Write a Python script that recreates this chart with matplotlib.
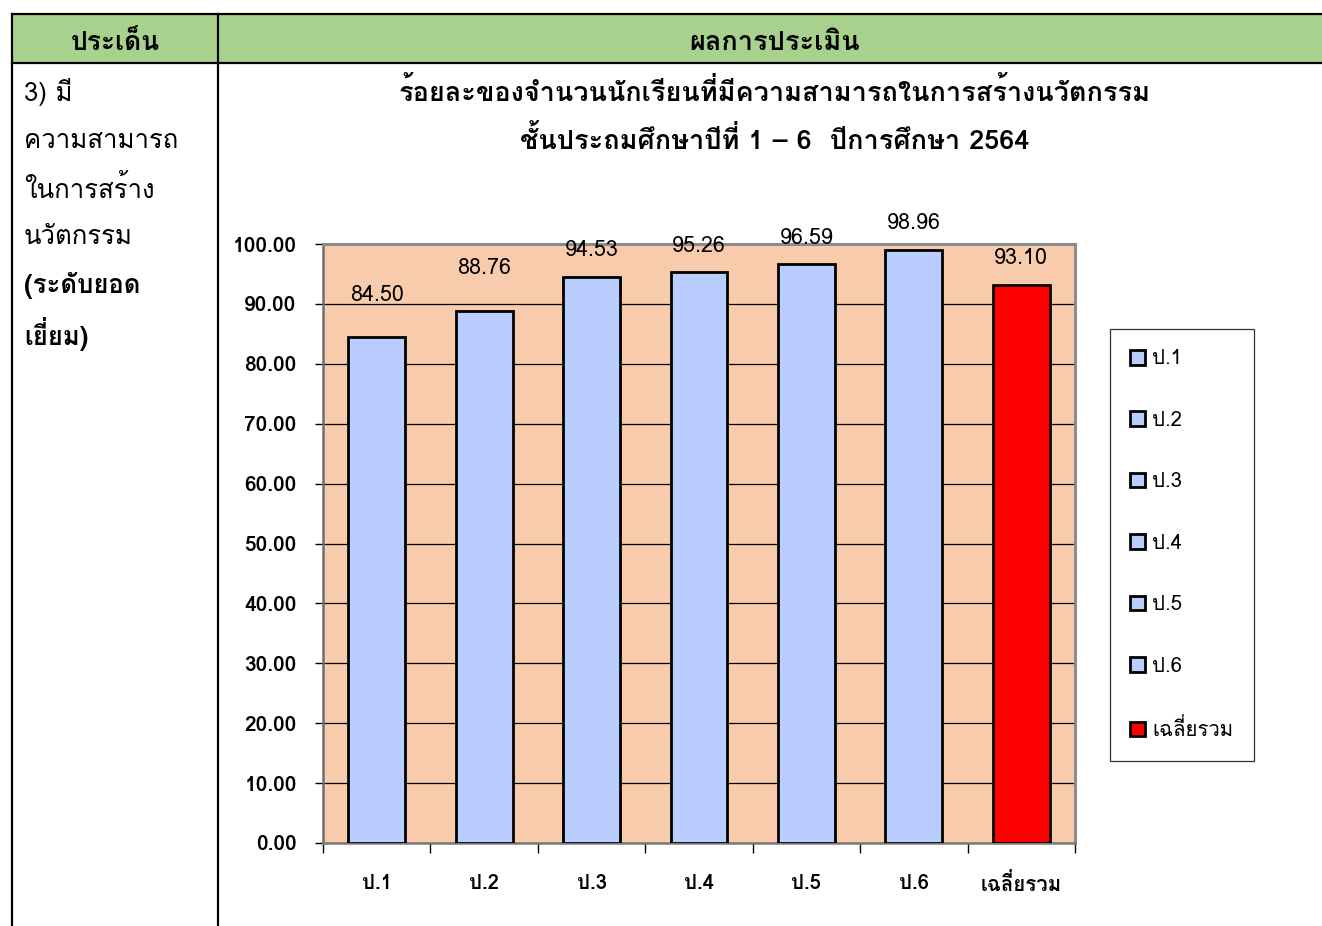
import matplotlib
matplotlib.use("Agg")
import matplotlib.pyplot as plt
from matplotlib.lines import Line2D
from matplotlib.patches import Rectangle
import numpy as np

FONT = ["Loma", "DejaVu Sans"]
plt.rcParams["font.family"] = FONT

# ---- data ----
categories = ["ป.1", "ป.2", "ป.3", "ป.4", "ป.5", "ป.6", "เฉลี่ยรวม"]
values = [84.50, 88.76, 94.53, 95.26, 96.59, 98.96, 93.10]
bar_colors = ["#B9CDFF"] * 6 + ["#FF0000"]
label_offsets_px = [41, 43, 26, 26, 26, 27, 27]
yticks = np.arange(0, 101, 10)
title_lines = ["ร้อยละของจำนวนนักเรียนที่มีความสามารถในการสร้างนวัตกรรม",
               "ชั้นประถมศึกษาปีที่ 1 – 6  ปีการศึกษา 2564"]
header_left = "ประเด็น"
header_right = "ผลการประเมิน"
left_lines = ["3) มี", "ความสามารถ", "ในการสร้าง", "นวัตกรรม", "(ระดับยอด", "เยี่ยม)"]
left_bold = [False, False, False, False, True, True]

W, H = 1322, 926
fig = plt.figure(figsize=(W / 100, H / 100), dpi=100)

def fx(x):
    return x / W

def fy(y):
    return 1 - y / H

# ---- table frame ----
fig.patches.append(Rectangle((fx(12), fy(63)), fx(W) - fx(12), fy(14) - fy(63),
                             transform=fig.transFigure, facecolor="#A9D18E",
                             edgecolor="none", zorder=0))
lw_tab = 1.6
for (x0, y0, x1, y1) in [(12, 14, W, 14), (12, 63, W, 63), (12, 14, 12, H),
                         (218, 14, 218, H)]:
    fig.lines.append(Line2D([fx(x0), fx(x1)], [fy(y0), fy(y1)],
                            transform=fig.transFigure, color="black", lw=lw_tab))

fig.text(fx(115), fy(43), header_left, ha="center", va="center",
         fontsize=19, weight="bold")
fig.text(fx(775), fy(43), header_right, ha="center", va="center",
         fontsize=19.5, weight="bold")

for i, (t, b) in enumerate(zip(left_lines, left_bold)):
    fig.text(fx(24), fy(92 + 48.5 * i), t, ha="left", va="center",
             fontsize=18.5, weight="bold" if b else "normal")

fig.text(fx(775), fy(92), title_lines[0], ha="center", va="center",
         fontsize=19.5, weight="bold")
fig.text(fx(775), fy(140), title_lines[1], ha="center", va="center",
         fontsize=19.5, weight="bold")

# ---- chart ----
ax = fig.add_axes([fx(323), fy(843), fx(1075) - fx(323), fy(244) - fy(843)])
ax.set_facecolor("#F8CBAD")
x = np.arange(len(categories))
for i in range(len(categories)):
    ax.bar(x[i], values[i], width=0.53, color=bar_colors[i], edgecolor="black",
           linewidth=2.0, label=categories[i], zorder=3)
    ax.annotate(f"{values[i]:.2f}", (x[i], values[i]),
                xytext=(0, label_offsets_px[i] * 0.72), textcoords="offset points",
                ha="center", va="center", fontsize=15.5, zorder=4,
                annotation_clip=False)

ax.set_xlim(-0.5, len(categories) - 0.5)
ax.set_ylim(0, 100)
ax.set_yticks(yticks)
ax.set_yticklabels([f"{v:.2f}" for v in yticks], fontsize=15, weight="bold")
ax.yaxis.grid(True, color="black", linewidth=0.9, zorder=1)
ax.set_axisbelow(True)
ax.tick_params(axis="y", direction="out", length=6, width=1, pad=13, color="black")

ax.set_xticks(x)
ax.set_xticklabels(categories, fontsize=14.7, weight="bold")
ax.set_xticks(np.arange(-0.5, len(categories), 1), minor=True)
ax.tick_params(axis="x", which="major", length=0, pad=22)
ax.tick_params(axis="x", which="minor", length=7, width=1, direction="out", color="black")

for s in ["top", "right"]:
    ax.spines[s].set_color("#8C8C8C")
    ax.spines[s].set_linewidth(2.2)
ax.spines["left"].set_color("#6E6E6E")
ax.spines["left"].set_linewidth(1.8)
ax.spines["bottom"].set_color("#7A7A7A")
ax.spines["bottom"].set_linewidth(1.8)

leg = fig.legend(loc="upper left", bbox_to_anchor=(fx(1110), fy(329)),
                 borderaxespad=0, frameon=True, fancybox=False, shadow=False,
                 fontsize=14.7, labelspacing=2.08, borderpad=1.0,
                 handlelength=0.72, handleheight=0.72, handletextpad=0.35)
leg.get_frame().set_edgecolor("black")
leg.get_frame().set_linewidth(0.9)

fig.savefig("out.png", dpi=100)
